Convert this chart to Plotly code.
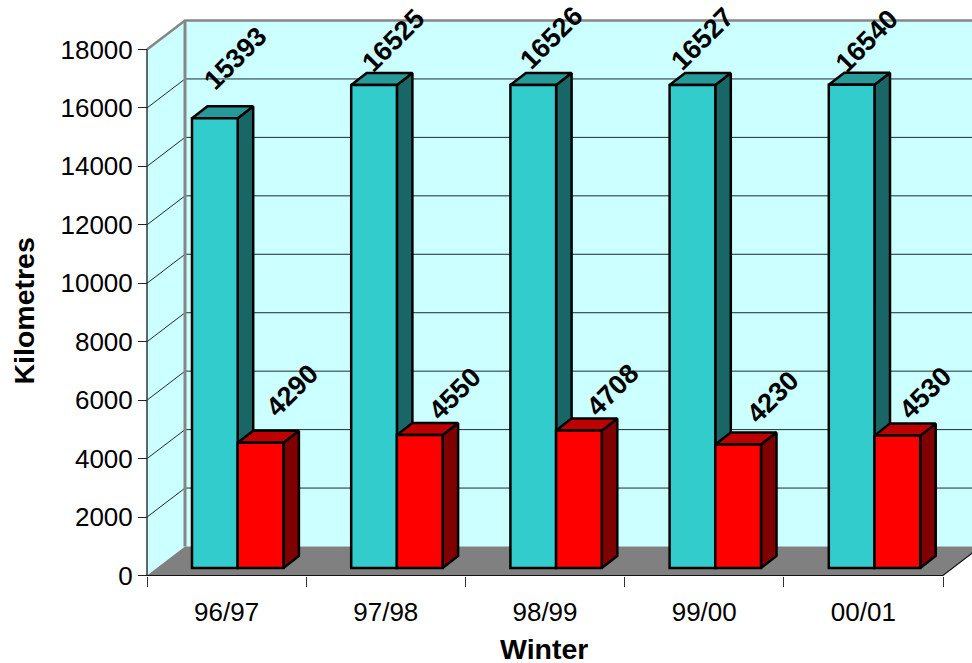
import plotly.graph_objects as go

winters = ["96/97", "97/98", "98/99", "99/00", "00/01"]
teal_values = [15393, 16525, 16526, 16527, 16540]
red_values = [4290, 4550, 4708, 4230, 4530]
y_ticks = [0, 2000, 4000, 6000, 8000, 10000, 12000, 14000, 16000, 18000]
teal_label_shift = [(21, -60), (19, -44), (18, -47), (10, -46), (15, -44)]
red_label_shift = [(31, -52), (35, -41), (34, -40), (35, -47), (28, -43)]

W, H = 972, 663
X0, CAT = 147.0, 159.2      # pixel of category origin, pixels per category
Y0, KM = 575.5, 526.0 / 18000  # pixel of zero, pixels per km
x_rng = [(0 - X0) / CAT, (W - X0) / CAT]
y_rng = [(Y0 - H) / KM, (Y0 - 0) / KM]

wall_dx, wall_dy = 38 / CAT, 29 / KM
bar_dx, bar_dy = 15.5 / CAT, 12 / KM
bar_w = 45.7 / CAT
bar_off = 45 / CAT
bar_base = 7.5 / KM
ymax = y_ticks[-1]
xend = 5 + wall_dx + 0.2

WALL, FLOOR, GREY = "#CCFFFF", "#808080", "#868686"
fig = go.Figure()


def poly(xs, ys, fill, line=None, width=0):
    fig.add_trace(go.Scatter(
        x=xs, y=ys, mode="lines", fill="toself" if fill else None, fillcolor=fill,
        line=dict(color=line or "rgba(0,0,0,0)", width=width),
        hoverinfo="skip", showlegend=False))


# walls
poly([0, wall_dx, wall_dx, 0, 0], [0, wall_dy, ymax + wall_dy, ymax, 0], WALL)
poly([wall_dx, xend, xend, wall_dx, wall_dx],
     [wall_dy, wall_dy, ymax + wall_dy, ymax + wall_dy, wall_dy], WALL)
# gridlines
for v in y_ticks[1:-1]:
    poly([0, wall_dx, xend], [v, v + wall_dy, v + wall_dy], None, "#1c2c2c", 1)
# floor
poly([0, wall_dx, xend, 5 + wall_dx, 5, 0], [0, wall_dy, wall_dy, wall_dy, 0, 0], FLOOR)
# wall edges
poly([wall_dx, wall_dx], [wall_dy, ymax + wall_dy], None, GREY, 3)
poly([0, wall_dx, xend], [ymax, ymax + wall_dy, ymax + wall_dy], None, GREY, 2.5)
poly([0, 0], [0, ymax], None, "#333333", 1.5)
poly([0, 5, 5 + wall_dx], [0, 0, wall_dy], None, "#111111", 1.2)


def depth_faces(values, left, top_col, side_col):
    for i, v in enumerate(values):
        l = i + left
        r = l + bar_w
        t = bar_base + v
        poly([r, r + bar_dx, r + bar_dx, r, r],
             [bar_base, bar_base + bar_dy, t + bar_dy, t, bar_base], side_col, "black", 2.5)
        poly([l, r, r + bar_dx, l + bar_dx, l], [t, t, t + bar_dy, t + bar_dy, t], top_col, "black", 2.5)


depth_faces(teal_values, bar_off, "#269999", "#196666")
depth_faces(red_values, bar_off + bar_w, "#BF0000", "#800000")

for values, left, col in [(teal_values, bar_off, "#33CCCC"), (red_values, bar_off + bar_w, "#FF0000")]:
    fig.add_trace(go.Bar(
        x=[i + left + bar_w / 2 for i in range(len(values))], y=values, base=bar_base, width=bar_w,
        marker=dict(color=col, line=dict(color="black", width=2.5)),
        xaxis="x2", yaxis="y2", showlegend=False, hoverinfo="skip"))

FONT = "Liberation Sans, Arial, sans-serif"
ann = []
for values, left, shifts in [(teal_values, bar_off, teal_label_shift),
                             (red_values, bar_off + bar_w, red_label_shift)]:
    for i, v in enumerate(values):
        ann.append(dict(x=i + left + bar_w / 2, y=bar_base + v, xref="x", yref="y", text=f"<b>{v}</b>",
                        showarrow=False, textangle=-45, xshift=shifts[i][0], yshift=-shifts[i][1],
                        xanchor="center", yanchor="middle",
                        font=dict(family=FONT, size=27, color="black")))
ann.append(dict(x=544 / W, y=1 - 649 / H, xref="paper", yref="paper", text="<b>Winter</b>", showarrow=False,
                xanchor="center", yanchor="middle", height=26, valign="middle", borderpad=0,
                font=dict(family=FONT, size=28.5, color="black")))
ann.append(dict(x=23.5 / W, y=1 - 311 / H, xref="paper", yref="paper", text="<b>Kilometres</b>", showarrow=False,
                xanchor="center", yanchor="middle",
                textangle=-90, font=dict(family=FONT, size=28.5, color="black")))

fig.update_layout(
    width=W, height=H, margin=dict(l=0, r=0, t=0, b=0), autosize=False,
    paper_bgcolor="white", plot_bgcolor="white", barmode="overlay", showlegend=False,
    annotations=ann,
    xaxis=dict(range=x_rng, domain=[0, 1], anchor="free", position=(H - Y0) / H, showgrid=False, zeroline=False,
               showline=False, tickmode="array", tickvals=[i + 0.5 for i in range(5)], ticktext=winters,
               ticks="outside", ticklen=13, tickcolor="rgba(0,0,0,0)",
               tickfont=dict(family=FONT, size=26, color="black"),
               minor=dict(tickmode="array", tickvals=list(range(6)), ticks="outside", ticklen=10,
                          tickcolor="#333333", tickwidth=1, showgrid=False)),
    yaxis=dict(range=y_rng, domain=[0, 1], anchor="free", position=X0 / W, showgrid=False, zeroline=False,
               showline=False, tickmode="array", tickvals=y_ticks, tickformat="d", ticks="outside", ticklen=9,
               tickcolor="#222222", tickwidth=1.2,
               tickfont=dict(family=FONT, size=26, color="black")),
    xaxis2=dict(range=x_rng, overlaying="x", visible=False, domain=[0, 1]),
    yaxis2=dict(range=y_rng, overlaying="y", visible=False, domain=[0, 1]),
)

fig.write_html("out.html", config=dict(displayModeBar=False),
               post_script="document.body.style.margin='0';document.documentElement.style.overflow='hidden';")
